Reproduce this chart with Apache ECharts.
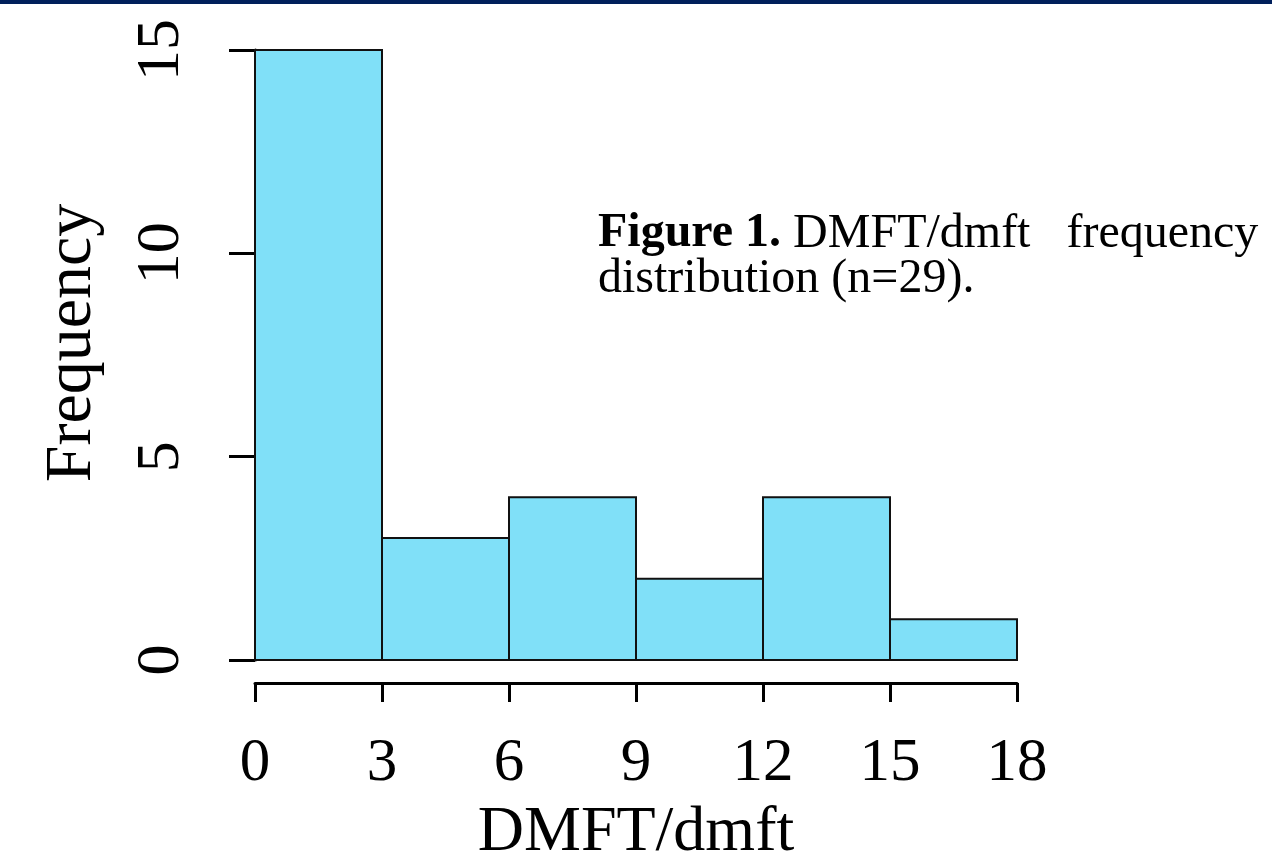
<!DOCTYPE html>
<html>
<head>
<meta charset="utf-8">
<script src="https://cdn.jsdelivr.net/npm/echarts@6/dist/echarts.min.js"></script>
<style>
html,body{margin:0;padding:0;background:#fff;}
#chart{width:1272px;height:858px;}
</style>
</head>
<body>
<div id="chart"></div>
<script>
// Histogram bins (DMFT/dmft) and frequencies
const binStarts = [0, 3, 6, 9, 12, 15];
const binEnds = [3, 6, 9, 12, 15, 18];
const frequencies = [15, 3, 4, 2, 4, 1];
const xTicks = [0, 3, 6, 9, 12, 15, 18];
const yTicks = [0, 5, 10, 15];
const xTitle = 'DMFT/dmft';
const yTitle = 'Frequency';
const captionBold = 'Figure 1.';
const captionRest1 = 'DMFT/dmft   frequency';
const captionRest2 = 'distribution (n=29).';

const data = binStarts.map((s, i) => [s, binEnds[i], frequencies[i]]);
const FONT = '"Liberation Serif", "DejaVu Serif", serif';

const chart = echarts.init(document.getElementById('chart'), null, {renderer: 'canvas'});
chart.setOption({
  backgroundColor: '#ffffff',
  animation: false,
  grid: {left: 255, right: 255, top: 50, bottom: 198, containLabel: false, outerBoundsMode: 'none'},
  xAxis: {
    type: 'value',
    min: xTicks[0], max: xTicks[xTicks.length - 1], interval: 3,
    offset: 23,
    axisLine: {show: true, onZero: false, lineStyle: {color: '#000', width: 3}},
    axisTick: {show: true, length: 19, lineStyle: {color: '#000', width: 3}},
    axisLabel: {fontFamily: FONT, fontSize: 61, color: '#000', margin: 50,
      formatter: v => xTicks.includes(v) ? String(v) : ''},
    splitLine: {show: false},
    name: xTitle, nameLocation: 'middle', nameGap: 118,
    nameTextStyle: {fontFamily: FONT, fontSize: 64, color: '#000'}
  },
  yAxis: {
    type: 'value',
    min: yTicks[0], max: yTicks[yTicks.length - 1], interval: 5,
    offset: 29,
    axisLine: {show: true, lineStyle: {color: '#000', width: 3}},
    axisTick: {show: true, length: 26, lineStyle: {color: '#000', width: 3}},
    axisLabel: {fontFamily: FONT, fontSize: 62, color: '#000', rotate: 90, margin: 33,
      formatter: v => yTicks.includes(v) ? String(v) : ''},
    splitLine: {show: false},
    name: yTitle, nameLocation: 'middle', nameGap: 120, nameRotate: 90,
    nameTextStyle: {fontFamily: FONT, fontSize: 66, color: '#000', padding: [0, 0, 0, 24]}
  },
  series: [{
    type: 'custom',
    data: data,
    encode: {x: [0, 1], y: 2},
    renderItem: function (params, api) {
      const p0 = api.coord([api.value(0), 0]);
      const p1 = api.coord([api.value(1), api.value(2)]);
      return {
        type: 'rect',
        shape: {x: p0[0], y: p1[1], width: p1[0] - p0[0], height: p0[1] - p1[1]},
        style: {fill: '#80e0f8', stroke: '#111', lineWidth: 2}
      };
    }
  }],
  graphic: [
    {type: 'rect', left: 0, top: 0, shape: {width: 1272, height: 4}, style: {fill: '#001f5b'}},
    {type: 'text', left: 598, top: 210,
      style: {
        text: '{b|' + captionBold + '} ' + captionRest1 + '\n' + captionRest2,
        font: '48px ' + FONT, fill: '#000', lineHeight: 45,
        rich: {b: {fontWeight: 'bold', fontFamily: FONT, fontSize: 48, fill: '#000', lineHeight: 45}}
      }}
  ]
});
</script>
</body>
</html>
